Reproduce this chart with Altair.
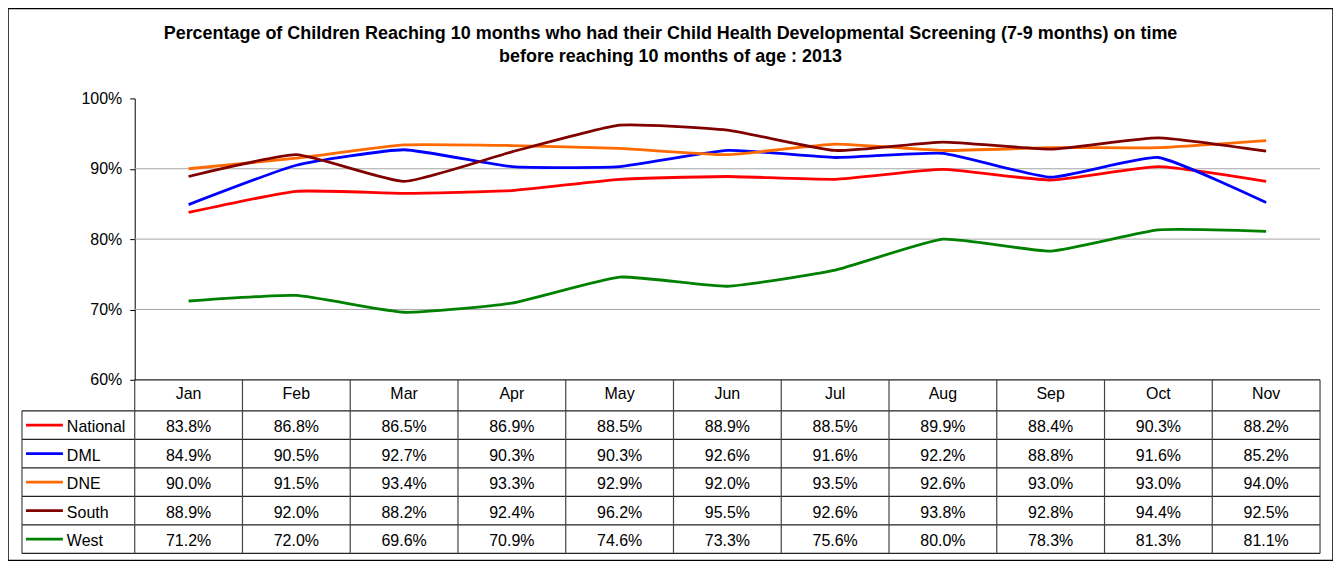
import altair as alt
import pandas as pd

# ---- data ----
months = ["Jan", "Feb", "Mar", "Apr", "May", "Jun", "Jul", "Aug", "Sep", "Oct", "Nov"]
series_names = ["National", "DML", "DNE", "South", "West"]
national = [83.8, 86.8, 86.5, 86.9, 88.5, 88.9, 88.5, 89.9, 88.4, 90.3, 88.2]
dml = [84.9, 90.5, 92.7, 90.3, 90.3, 92.6, 91.6, 92.2, 88.8, 91.6, 85.2]
dne = [90.0, 91.5, 93.4, 93.3, 92.9, 92.0, 93.5, 92.6, 93.0, 93.0, 94.0]
south = [88.9, 92.0, 88.2, 92.4, 96.2, 95.5, 92.6, 93.8, 92.8, 94.4, 92.5]
west = [71.2, 72.0, 69.6, 70.9, 74.6, 73.3, 75.6, 80.0, 78.3, 81.3, 81.1]
colors = ["#FF0000", "#0000FF", "#FF6A00", "#800000", "#008000"]
y_ticks = [60, 70, 80, 90, 100]
grid_values = [70, 80, 90]
title_lines = [
    "Percentage of Children Reaching 10 months who had their Child Health Developmental Screening (7-9 months) on time",
    "before reaching 10 months of age : 2013",
]

all_values = [national, dml, dne, south, west]

# ---- layout constants (pixels / units) ----
W, H = 1328, 553
COL = 108.0                 # width of a month column in px
PLOT_LEFT = 127.0           # y-axis position from chart left
LEG_LEFT = 14.0             # legend column left edge
x_dom = [-PLOT_LEFT / COL, (W - PLOT_LEFT) / COL]
leg_l = -(PLOT_LEFT - LEG_LEFT) / COL
HEADER = -1.09
n = len(months)
m = len(series_names)

rows = []
for s, vals in zip(series_names, all_values):
    for i, (mo, v) in enumerate(zip(months, vals)):
        rows.append({"series": s, "month": mo, "xi": i + 0.5, "value": v,
                     "row": series_names.index(s) + 0.5, "label": f"{v:.1f}%"})
df = pd.DataFrame(rows)

xs = alt.Scale(domain=x_dom, nice=False, zero=False)
ys_plot = alt.Scale(domain=[60, 100], range=[372, 90], nice=False, zero=False)
ys_tab = alt.Scale(domain=[HEADER, m], range=[372, 546], nice=False, zero=False)
color_scale = alt.Scale(domain=series_names, range=colors)

# gridlines
grid = alt.Chart(pd.DataFrame({"g": grid_values, "x0": [0] * 3, "x1": [n] * 3})).mark_rule(
    color="#A6A6A6", strokeWidth=1
).encode(
    x=alt.X("x0:Q", scale=xs, axis=None),
    x2="x1:Q",
    y=alt.Y("g:Q", scale=ys_plot,
            axis=alt.Axis(values=y_ticks, format=".0f", labelExpr="datum.value + '%'",
                          offset=-PLOT_LEFT, grid=False, domainColor="#000", tickColor="#000",
                          tickSize=5, labelPadding=8, labelFont="Liberation Sans",
                          labelFontSize=16, labelColor="#000", title=None)),
)

lines = alt.Chart(df).mark_line(strokeWidth=2.8, interpolate="cardinal", tension=0.55).encode(
    x=alt.X("xi:Q", scale=xs, axis=None),
    y=alt.Y("value:Q", scale=ys_plot, axis=None),
    color=alt.Color("series:N", scale=color_scale, legend=None),
    detail="series:N",
)

# table borders
hl = [{"y": HEADER, "x0": 0, "x1": n}] + [{"y": float(k), "x0": leg_l, "x1": n} for k in range(m + 1)]
vl = [{"x": leg_l, "y0": 0, "y1": m}] + [{"x": float(k), "y0": HEADER, "y1": m} for k in range(n + 1)]

hlines = alt.Chart(pd.DataFrame(hl)).mark_rule(color="#222", strokeWidth=1.2).encode(
    x=alt.X("x0:Q", scale=xs, axis=None), x2="x1:Q",
    y=alt.Y("y:Q", scale=ys_tab, axis=None),
)
vlines = alt.Chart(pd.DataFrame(vl)).mark_rule(color="#444", strokeWidth=1.2).encode(
    x=alt.X("x:Q", scale=xs, axis=None),
    y=alt.Y("y0:Q", scale=ys_tab, axis=None), y2="y1:Q",
)

hdr = pd.DataFrame({"month": months, "xi": [i + 0.5 for i in range(n)], "yy": [HEADER / 2] * n})
header = alt.Chart(hdr).mark_text(font="Liberation Sans", fontSize=16, color="#000", dy=-1).encode(
    x=alt.X("xi:Q", scale=xs, axis=None),
    y=alt.Y("yy:Q", scale=ys_tab, axis=None),
    text="month:N",
)

cells = alt.Chart(df).mark_text(font="Liberation Sans", fontSize=16, color="#000", dy=2).encode(
    x=alt.X("xi:Q", scale=xs, axis=None),
    y=alt.Y("row:Q", scale=ys_tab, axis=None),
    text="label:N",
)

leg = pd.DataFrame({"series": series_names, "row": [k + 0.5 for k in range(m)],
                    "x0": [leg_l + 4 / COL] * m, "x1": [leg_l + 41 / COL] * m,
                    "xt": [leg_l + 45 / COL] * m})
leg_sw = alt.Chart(leg).mark_rule(strokeWidth=2.8).encode(
    x=alt.X("x0:Q", scale=xs, axis=None), x2="x1:Q",
    y=alt.Y("row:Q", scale=ys_tab, axis=None),
    color=alt.Color("series:N", scale=color_scale, legend=None),
)
leg_tx = alt.Chart(leg).mark_text(font="Liberation Sans", fontSize=16, color="#000", align="left", dy=2).encode(
    x=alt.X("xt:Q", scale=xs, axis=None),
    y=alt.Y("row:Q", scale=ys_tab, axis=None),
    text="series:N",
)

chart = alt.layer(grid, lines, hlines, vlines, header, cells, leg_sw, leg_tx).resolve_scale(
    y="independent", color="shared"
).properties(
    width=W, height=H, padding=0, autosize=alt.AutoSizeParams(type="none"),
    title=alt.TitleParams(title_lines, anchor="middle", offset=-58, font="Liberation Sans",
                          fontSize=18, fontWeight="bold", color="#000", lineHeight=24),
).configure_view(stroke="#000", strokeWidth=1.5)

chart.save("out.html", embed_options={"renderer": "svg", "actions": False})
